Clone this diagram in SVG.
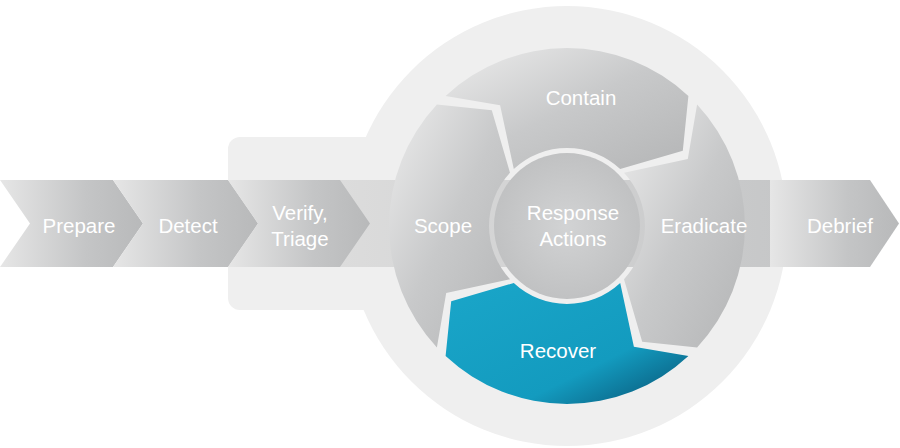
<svg xmlns="http://www.w3.org/2000/svg" width="900" height="448" viewBox="0 0 900 448">
<defs>
<linearGradient id="chev" x1="0" y1="0" x2="1" y2="0"><stop offset="0" stop-color="#e6e6e6"/><stop offset="0.6" stop-color="#c4c5c6"/><stop offset="1" stop-color="#b8b9ba"/></linearGradient>
<linearGradient id="band" x1="0" y1="0" x2="1" y2="0"><stop offset="0" stop-color="#dcdcdc"/><stop offset="1" stop-color="#c6c7c8"/></linearGradient>
<linearGradient id="seg" x1="0" y1="0" x2="1" y2="1"><stop offset="0" stop-color="#ececec"/><stop offset="0.5" stop-color="#c8c9ca"/><stop offset="1" stop-color="#b4b5b6"/></linearGradient>
<linearGradient id="rec" x1="0" y1="0" x2="1" y2="1"><stop offset="0" stop-color="#1aa6c9"/><stop offset="0.65" stop-color="#139bbf"/><stop offset="1" stop-color="#084f70"/></linearGradient>
<radialGradient id="ctr" cx="0.5" cy="0.5" r="0.6"><stop offset="0" stop-color="#d2d3d4"/><stop offset="1" stop-color="#bdbebf"/></radialGradient>
</defs>
<style>
text{font-family:"Liberation Sans",Arial,sans-serif;font-size:20.5px;fill:#fff;text-anchor:middle}
.s{fill:url(#seg)}
</style>
<g id="background">
<circle cx="567" cy="226" r="220" fill="#efefef"/>
<rect x="228" y="137" width="210" height="173" rx="12" fill="#efefef"/>
<rect x="340" y="180" width="440" height="87" fill="url(#band)"/>
</g>
<g id="prepare"><polygon points="0,180 113,180 143,223.5 113,267 0,267 30,223.5" fill="url(#chev)"/><text x="79" y="233">Prepare</text></g>
<g id="detect"><polygon points="113,180 228,180 258,223.5 228,267 113,267 143,223.5" fill="url(#chev)"/><text x="188" y="233">Detect</text></g>
<g id="verify"><polygon points="228,180 340,180 370,223.5 340,267 228,267 258,223.5" fill="url(#chev)"/><text x="300" y="220">Verify,</text><text x="300" y="246">Triage</text></g>
<g id="debrief"><polygon points="770,180 870,180 899,223.5 870,267 770,267 770,223.5" fill="url(#chev)"/><text x="840" y="233">Debrief</text></g>
<g id="contain"><path class="s" d="M445.6,95.9 L500.1,105.2 L513.8,169 A78,78 0 0 1 620.2,169 L682.8,150.8 L688.4,95.9 A178,178 0 0 0 445.6,95.9 Z"/><text x="581" y="105">Contain</text></g>
<g id="eradicate"><path class="s" d="M697.1,104.6 L687.8,159.1 L624,172.8 A78,78 0 0 1 624,279.2 L642.2,341.8 L697.1,347.4 A178,178 0 0 0 697.1,104.6 Z"/><text x="704" y="233">Eradicate</text></g>
<g id="recover"><path fill="url(#rec)" d="M688.4,356.1 L633.9,346.8 L620.2,283 A78,78 0 0 1 513.8,283 L451.2,301.2 L445.6,356.1 A178,178 0 0 0 688.4,356.1 Z"/><text x="558" y="358">Recover</text></g>
<g id="scope"><path class="s" d="M436.9,347.4 L446.2,292.9 L510,279.2 A78,78 0 0 1 510,172.8 L491.8,110.2 L436.9,104.6 A178,178 0 0 0 436.9,347.4 Z"/><text x="443" y="233">Scope</text></g>
<g id="response"><circle cx="567" cy="226" r="73" fill="url(#ctr)"/><text x="573" y="220">Response</text><text x="573" y="246">Actions</text></g>
<g id="connectors"/>
</svg>
